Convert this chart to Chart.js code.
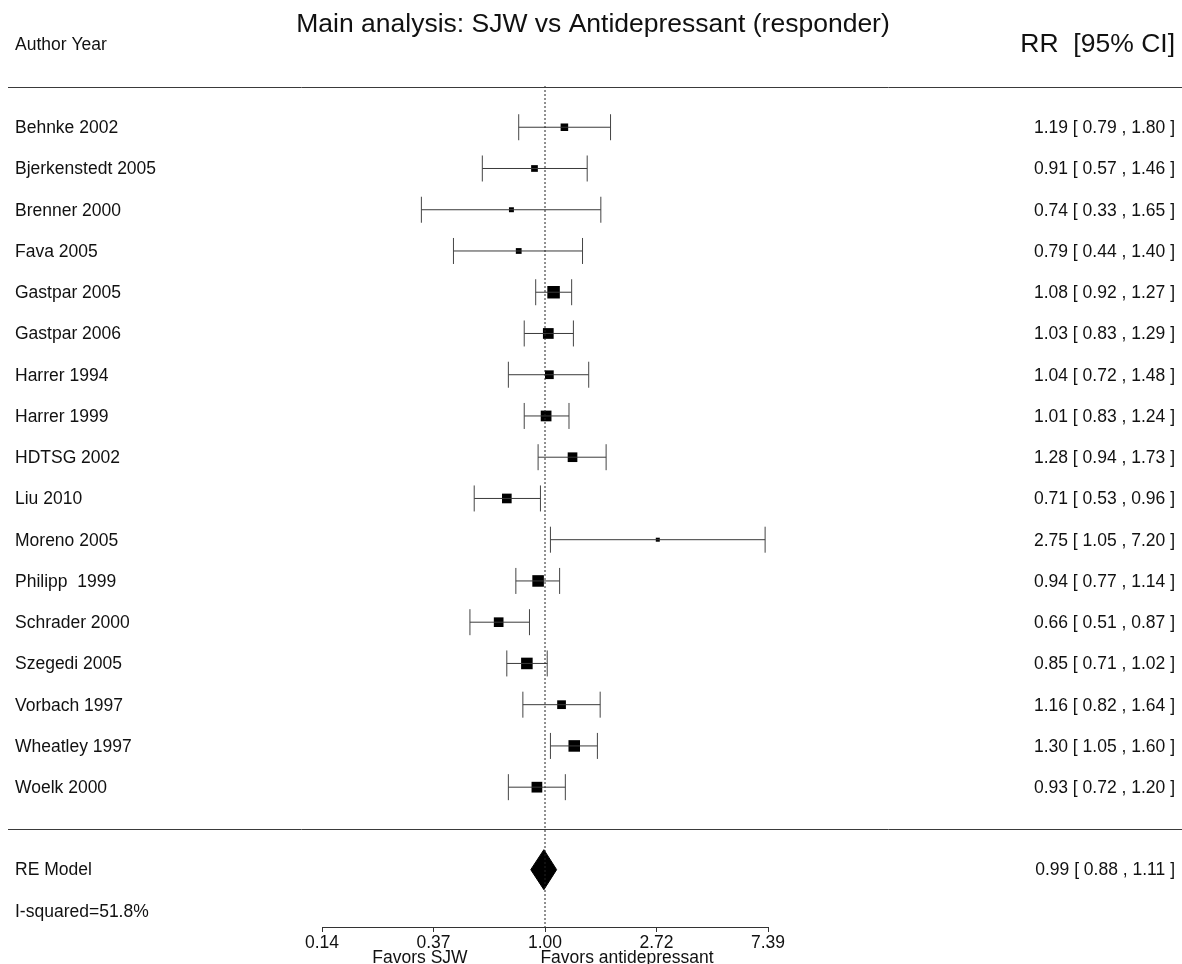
<!DOCTYPE html>
<html>
<head>
<meta charset="utf-8">
<script src="https://cdn.jsdelivr.net/npm/chart.js@4/dist/chart.umd.min.js"></script>
<style>
  html, body { margin: 0; padding: 0; background: #fff; }
  #wrap { width: 1182px; height: 964px; position: relative; }
</style>
</head>
<body>
<div id="wrap"><canvas id="forest"></canvas></div>
<script>
// forest plot - SJW vs antidepressant (responder), RR on log scale

const studies = ['Behnke 2002', 'Bjerkenstedt 2005', 'Brenner 2000', 'Fava 2005', 'Gastpar 2005',
    'Gastpar 2006', 'Harrer 1994', 'Harrer 1999', 'HDTSG 2002', 'Liu 2010', 'Moreno 2005',
    'Philipp  1999', 'Schrader 2000', 'Szegedi 2005', 'Vorbach 1997', 'Wheatley 1997', 'Woelk 2000'];
const rr    = [1.19, 0.91, 0.74, 0.79, 1.08, 1.03, 1.04, 1.01, 1.28, 0.71, 2.75, 0.94, 0.66, 0.85, 1.16, 1.30, 0.93];
const ciLow = [0.79, 0.57, 0.33, 0.44, 0.92, 0.83, 0.72, 0.83, 0.94, 0.53, 1.05, 0.77, 0.51, 0.71, 0.82, 1.05, 0.72];
const ciHigh = [1.80, 1.46, 1.65, 1.40, 1.27, 1.29, 1.48, 1.24, 1.73, 0.96, 7.20, 1.14, 0.87, 1.02, 1.64, 1.60, 1.20];
// estimated study weights (%)
const weights = [4.2, 3.5, 2.0, 2.7, 8.4, 6.9, 5.2, 6.9, 6.0, 6.0, 1.2, 7.6, 6.0, 7.6, 5.2, 7.6, 6.9];

const pooled = { est: 0.99, lo: 0.88, hi: 1.11 };
const i2Label = 'I-squared=51.8%';
const tickValues = [Math.exp(-2), Math.exp(-1), 1, Math.exp(1), Math.exp(2)];

const FONT = '"Liberation Sans", Arial, sans-serif';
const INK = '#111';
const LINE = '#3a3a3a';
const ROW_RE = studies.length + 2;
const Y_MAX = 20.39;

function fmt(v) { return v.toFixed(2); }

function boxSide(w) {
    const wMin = Math.min(...weights), wMax = Math.max(...weights);
    return 4 + (w - wMin) / (wMax - wMin) * 8.5;
}

const datasets = [];

// reference line at RR = 1
datasets.push({
    data: [{ x: 1, y: 0 }, { x: 1, y: Y_MAX }],
    borderColor: '#222',
    borderWidth: 1,
    borderDash: [2, 2],
    pointRadius: 0
});

// confidence intervals with end caps
studies.forEach((name, i) => {
    datasets.push({
        data: [{ x: ciLow[i], y: i + 1 }, { x: ciHigh[i], y: i + 1 }],
        borderColor: LINE,
        borderWidth: 1,
        pointStyle: 'line',
        rotation: 90,
        pointRadius: 13,
        pointBorderColor: '#444',
        pointBorderWidth: 1
    });
});

// point estimates (boxes sized by weight)
datasets.push({
    type: 'scatter',
    data: rr.map((v, i) => ({ x: v, y: i + 1 })),
    pointStyle: 'rect',
    pointRadius: weights.map(w => boxSide(w) / Math.SQRT2),
    backgroundColor: '#000',
    borderWidth: 0
});

// pooled diamond: upper and lower edges, filled between
const half = 0.485;
datasets.push({
    data: [{ x: pooled.lo, y: ROW_RE }, { x: pooled.est, y: ROW_RE - half }, { x: pooled.hi, y: ROW_RE }],
    borderColor: '#000', borderWidth: 1, pointRadius: 0, tension: 0
});
datasets.push({
    data: [{ x: pooled.lo, y: ROW_RE }, { x: pooled.est, y: ROW_RE + half }, { x: pooled.hi, y: ROW_RE }],
    borderColor: '#000', borderWidth: 1, pointRadius: 0, tension: 0,
    fill: '-1', backgroundColor: '#000'
});

const textPlugin = {
    id: 'forestText',
    afterDraw(chart) {
        const ctx = chart.ctx;
        const y = chart.scales.y;
        const W = chart.width;
        ctx.save();

        // horizontal rules
        ctx.strokeStyle = LINE;
        ctx.lineWidth = 1;
        [0.02, studies.length + 1.02].forEach(r => {
            const py = Math.round(y.getPixelForValue(r)) + 0.5;
            ctx.beginPath();
            ctx.moveTo(8, py);
            ctx.lineTo(W, py);
            ctx.stroke();
        });

        ctx.fillStyle = INK;
        ctx.textBaseline = 'middle';

        // headers
        ctx.font = '26.5px ' + FONT;
        ctx.textAlign = 'center';
        ctx.fillText('Main analysis: SJW vs Antidepressant (responder)', 593, 25);
        ctx.textAlign = 'right';
        ctx.fillText('RR  [95% CI]', 1175, 45);
        ctx.font = '17.5px ' + FONT;
        ctx.textAlign = 'left';
        ctx.fillText('Author Year', 15, 45);

        // study rows
        studies.forEach((name, i) => {
            const py = y.getPixelForValue(i + 1) + 1;
            ctx.textAlign = 'left';
            ctx.fillText(name, 15, py);
            ctx.textAlign = 'right';
            ctx.fillText(fmt(rr[i]) + ' [ ' + fmt(ciLow[i]) + ' , ' + fmt(ciHigh[i]) + ' ]', 1175, py);
        });

        // pooled row
        const pyRE = y.getPixelForValue(ROW_RE) + 1;
        ctx.textAlign = 'left';
        ctx.fillText('RE Model', 15, pyRE);
        ctx.fillText(i2Label, 15, y.getPixelForValue(ROW_RE + 1) + 1);
        ctx.textAlign = 'right';
        ctx.fillText(fmt(pooled.est) + ' [ ' + fmt(pooled.lo) + ' , ' + fmt(pooled.hi) + ' ]', 1175, pyRE);

        // axis side labels
        ctx.textAlign = 'center';
        ctx.fillText('Favors SJW', 420, 958);
        ctx.fillText('Favors antidepressant', 627, 958);

        ctx.restore();
    }
};

new Chart(document.getElementById('forest'), {
    type: 'line',
    data: { datasets },
    plugins: [textPlugin],
    options: {
        responsive: true,
        maintainAspectRatio: false,
        animation: false,
        events: [],
        layout: { padding: { left: 322, right: 1182 - 768, top: 86, bottom: 0 } },
        plugins: {
            legend: { display: false },
            tooltip: { enabled: false },
            title: { display: false }
        },
        elements: { line: { clip: false } },
        scales: {
            x: {
                type: 'logarithmic',
                min: Math.exp(-2),
                max: Math.exp(2),
                afterBuildTicks: scale => { scale.ticks = tickValues.map(v => ({ value: v })); },
                afterFit: scale => { scale.height = 37; },
                border: { display: true, color: '#333', width: 1 },
                grid: { drawOnChartArea: false, drawTicks: true, tickLength: 5, color: '#333' },
                ticks: {
                    autoSkip: false,
                    maxRotation: 0,
                    padding: 1,
                    color: INK,
                    font: { family: FONT, size: 17.5 },
                    callback: v => Number(v).toFixed(2)
                }
            },
            y: {
                type: 'linear',
                reverse: true,
                min: 0,
                max: Y_MAX,
                display: false
            }
        }
    }
});
</script>
</body>
</html>
